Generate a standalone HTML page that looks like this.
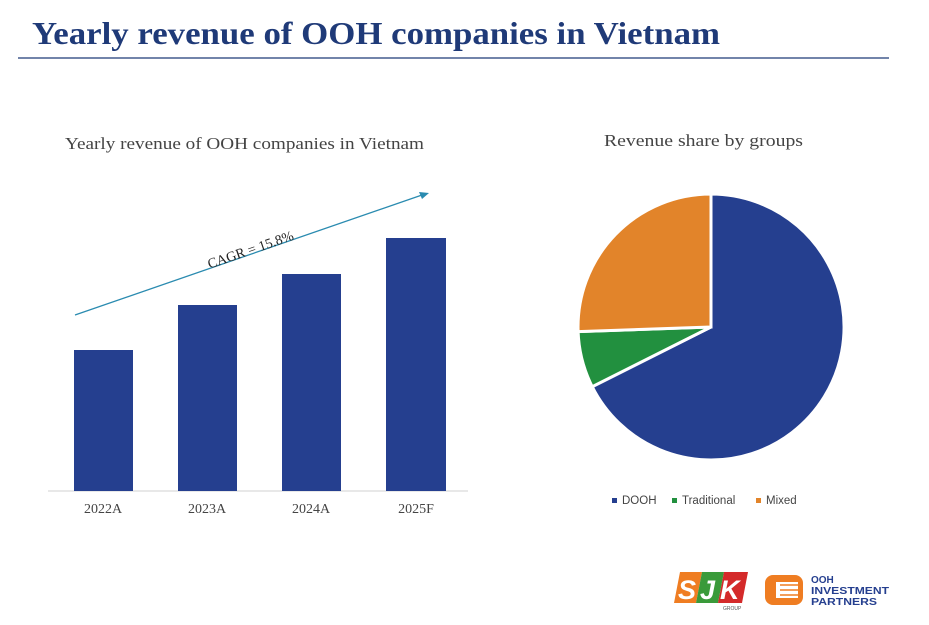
<!DOCTYPE html>
<html><head><meta charset="utf-8"><style>
body{margin:0;width:929px;height:625px;background:#fff;overflow:hidden;position:relative;font-family:"Liberation Serif",serif}
</style></head><body>
<svg width="929" height="625" style="position:absolute;left:0;top:0">
<text x="32" y="44" textLength="688" lengthAdjust="spacingAndGlyphs" font-family="Liberation Serif" font-weight="bold" font-size="32" fill="#1f3a78">Yearly revenue of OOH companies in Vietnam</text>
<line x1="18" y1="58" x2="889" y2="58" stroke="#1f3a78" stroke-width="1.2"/>
<text x="65" y="149" textLength="359" lengthAdjust="spacingAndGlyphs" font-family="Liberation Serif" font-size="17" fill="#444">Yearly revenue of OOH companies in Vietnam</text>
<line x1="48" y1="491" x2="468" y2="491" stroke="#d0d0d0" stroke-width="1"/>
<rect x="74" y="350" width="59" height="141" fill="#253f8f"/>
<rect x="178" y="305" width="59" height="186" fill="#253f8f"/>
<rect x="282" y="274" width="59" height="217" fill="#253f8f"/>
<rect x="386" y="238" width="60" height="253" fill="#253f8f"/>
<g font-family="Liberation Serif" font-size="14" fill="#444" text-anchor="middle">
<text x="103" y="513">2022A</text><text x="207" y="513">2023A</text><text x="311" y="513">2024A</text><text x="416" y="513">2025F</text></g>
<line x1="75" y1="315" x2="422" y2="195" stroke="#2a8bb0" stroke-width="1.3"/>
<polygon points="429,193 419,192 422,199" fill="#2a8bb0"/>
<text x="252" y="254" text-anchor="middle" font-family="Liberation Serif" font-size="14" fill="#222" transform="rotate(-19 252 254)">CAGR = 15.8%</text>
<text x="604" y="146" textLength="199" lengthAdjust="spacingAndGlyphs" font-family="Liberation Serif" font-size="17" fill="#444">Revenue share by groups</text>
<g stroke="#fff" stroke-width="3">
<path d="M711,327 L711,194 A133,133 0 1 1 592.2,386.7 Z" fill="#253f8f"/>
<path d="M711,327 L592.2,386.7 A133,133 0 0 1 578.1,331.6 Z" fill="#22903f"/>
<path d="M711,327 L578.1,331.6 A133,133 0 0 1 711,194 Z" fill="#e2842a"/>
</g>
<g font-family="Liberation Sans" font-size="11.5" fill="#444">
<rect x="612" y="498" width="5" height="5" fill="#253f8f"/><text x="622" y="504">DOOH</text>
<rect x="672" y="498" width="5" height="5" fill="#22903f"/><text x="682" y="504">Traditional</text>
<rect x="756" y="498" width="5" height="5" fill="#e2842a"/><text x="766" y="504">Mixed</text></g>
<polygon points="680,572 702,572 696,603 674,603" fill="#ef7d22"/>
<polygon points="702,572 724,572 718,603 696,603" fill="#3a9a3a"/>
<polygon points="724,572 748,572 742,603 718,603" fill="#d42a2a"/>
<g font-family="Liberation Sans" font-weight="bold" font-style="italic" font-size="27" fill="#fff">
<text x="678" y="599">S</text><text x="700" y="599">J</text><text x="720" y="599">K</text></g>
<text x="723" y="610" font-family="Liberation Sans" font-size="5" fill="#555">GROUP</text>
<rect x="765" y="575" width="38" height="30" rx="8" fill="#ef7d22"/>
<rect x="776" y="582" width="22" height="16" fill="#fff"/>
<g stroke="#ef7d22" stroke-width="1.5"><line x1="780" y1="585" x2="803" y2="585"/><line x1="780" y1="590" x2="803" y2="590"/><line x1="780" y1="595" x2="803" y2="595"/></g>
<g font-family="Liberation Sans" font-weight="bold" font-size="10" fill="#253f8f">
<text x="811" y="583">OOH</text><text x="811" y="594" textLength="78" lengthAdjust="spacingAndGlyphs">INVESTMENT</text><text x="811" y="605" textLength="66" lengthAdjust="spacingAndGlyphs">PARTNERS</text></g>
</svg>
</body></html>
